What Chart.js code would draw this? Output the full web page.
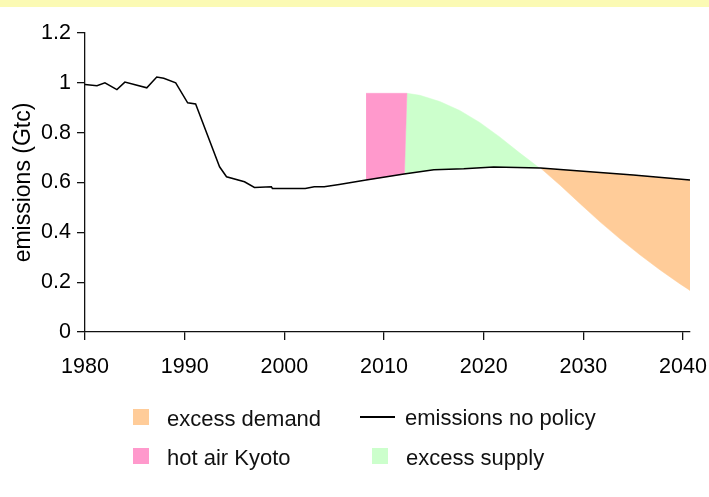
<!DOCTYPE html>
<html>
<head>
<meta charset="utf-8">
<script src="https://cdn.jsdelivr.net/npm/chart.js@4/dist/chart.umd.min.js"></script>
<style>
  html, body { margin: 0; padding: 0; background: #fff; }
  #wrap { position: relative; width: 709px; height: 497px; overflow: hidden;
          font-family: 'Liberation Sans', Arial, sans-serif; }
  #band { position: absolute; left: 0; top: 0; width: 709px; height: 7px; background: #fbfab4; }
  canvas { position: absolute; left: 0; top: 0; }
  .lg-text { position: absolute; font-size: 22px; line-height: 22px; color: #111; white-space: nowrap; }
  .lg-box { position: absolute; width: 16px; height: 16px; }
  .lg-line { position: absolute; width: 35px; height: 2px; background: #000; }
</style>
</head>
<body>
<div id="wrap">
  <div id="band"></div>
  <canvas id="chart" width="709" height="497"></canvas>
  <div id="legend"></div>
</div>
<script>
// Emissions without policy (Gtc)
const lineYears  = [1980, 1981.2, 1982, 1983.2, 1984, 1986.2, 1987.2, 1987.9, 1989.1, 1990.3, 1991.1,
                    1993.5, 1994.2, 1996, 1997, 1998.7, 1998.8, 2002.1, 2003, 2004, 2005.5, 2008.2,
                    2012, 2015, 2018, 2021, 2025.7, 2030, 2035, 2040.7];
const lineValues = [0.993, 0.988, 1.0, 0.973, 1.003, 0.98, 1.023, 1.018, 1.0, 0.92, 0.915,
                    0.663, 0.623, 0.603, 0.58, 0.583, 0.576, 0.576, 0.583, 0.583, 0.592, 0.61,
                    0.634, 0.651, 0.655, 0.662, 0.658, 0.645, 0.63, 0.61];

// Hot air Kyoto outline
const hotAirYears  = [2008.2, 2012.3, 2012.05, 2008.2];
const hotAirValues = [0.958, 0.958, 0.634, 0.61];

// Excess supply outline (top curve, then back along the no-policy path)
const supplyYears  = [2012.3, 2013.6, 2015.6, 2017.6, 2019.6, 2021.6, 2023.6, 2025.6,
                      2021, 2018, 2015, 2012.05];
const supplyValues = [0.958, 0.950, 0.925, 0.889, 0.841, 0.783, 0.719, 0.658,
                      0.662, 0.655, 0.651, 0.634];

// Excess demand outline (no-policy path, then back along the lower curve)
const demandYears  = [2025.7, 2030, 2035, 2040.7,
                      2040.7, 2039.7, 2037.7, 2035.7, 2033.7, 2031.7, 2029.7, 2027.7, 2025.7];
const demandValues = [0.658, 0.645, 0.63, 0.61,
                      0.167, 0.193, 0.249, 0.309, 0.373, 0.441, 0.514, 0.588, 0.658];

// Axis ticks
const xTicks = [1980, 1990, 2000, 2010, 2020, 2030, 2040];
const yTicks = [0, 0.2, 0.4, 0.6, 0.8, 1, 1.2];
const yTickLabels = ['0', '0.2', '0.4', '0.6', '0.8', '1', '1.2'];

const toPoints = (xs, ys) => xs.map((x, i) => ({ x: x, y: ys[i] }));

const FONT = "'Liberation Sans', Arial, sans-serif";
const AXIS = '#111';

const area = (label, xs, ys, color) => ({
  label: label,
  data: toPoints(xs, ys),
  backgroundColor: color,
  borderColor: color,
  borderWidth: 0.5,
  pointRadius: 0,
  tension: 0,
  fill: 'shape'
});

const datasets = [
  {
    label: 'emissions no policy',
    data: toPoints(lineYears, lineValues),
    borderColor: '#000',
    borderWidth: 1.5,
    pointRadius: 0,
    tension: 0,
    fill: false,
    clip: false
  },
  area('excess demand', demandYears, demandValues, '#ffcc99'),
  area('hot air Kyoto', hotAirYears, hotAirValues, '#ff99cc'),
  area('excess supply', supplyYears, supplyValues, '#ccffcc')
];

new Chart(document.getElementById('chart'), {
  type: 'line',
  data: { datasets: datasets },
  options: {
    responsive: false,
    animation: false,
    events: [],
    layout: { padding: { left: 0, top: 33, right: 19, bottom: 105 } },
    plugins: { legend: { display: false }, tooltip: { enabled: false } },
    scales: {
      x: {
        type: 'linear',
        min: 1980,
        max: 2040.7,
        afterBuildTicks: (s) => { s.ticks = xTicks.map(v => ({ value: v })); },
        afterFit: (s) => { s.height = 60; s.paddingLeft = 0; s.paddingRight = 0; },
        border: { display: true, color: AXIS, width: 1.3 },
        grid: { display: true, drawOnChartArea: false, drawTicks: true, tickLength: 8,
                color: AXIS, lineWidth: 1.3 },
        ticks: { color: '#000', padding: 14, maxRotation: 0, autoSkip: false,
                 font: { family: FONT, size: 21.5 },
                 callback: (v) => String(v) }
      },
      y: {
        type: 'linear',
        min: 0,
        max: 1.2,
        afterBuildTicks: (s) => { s.ticks = yTicks.map(v => ({ value: v })); },
        afterFit: (s) => { s.width = 85; s.paddingTop = 0; s.paddingBottom = 0; },
        border: { display: true, color: AXIS, width: 1.3 },
        grid: { display: true, drawOnChartArea: false, drawTicks: true, tickLength: 8,
                color: AXIS, lineWidth: 1.3 },
        ticks: { color: '#000', padding: 6, autoSkip: false,
                 font: { family: FONT, size: 21.5 },
                 callback: (v) => yTickLabels[yTicks.indexOf(v)] ?? String(v) },
        title: { display: true, text: 'emissions (Gtc)', color: '#000',
                 font: { family: FONT, size: 23 }, padding: { top: 10, bottom: 0 } }
      }
    }
  }
});

// Two-column legend below the plot
const legendItems = [
  { label: 'excess demand',       color: '#ffcc99', kind: 'box',  left: 133, top: 409, textLeft: 167 },
  { label: 'emissions no policy', color: '#000',    kind: 'line', left: 360, top: 416, textLeft: 405 },
  { label: 'hot air Kyoto',       color: '#ff99cc', kind: 'box',  left: 133, top: 448, textLeft: 167 },
  { label: 'excess supply',       color: '#ccffcc', kind: 'box',  left: 372, top: 448, textLeft: 406 }
];
const legendEl = document.getElementById('legend');
legendItems.forEach(it => {
  const mark = document.createElement('div');
  mark.className = it.kind === 'box' ? 'lg-box' : 'lg-line';
  mark.style.left = it.left + 'px';
  mark.style.top = it.top + 'px';
  mark.style.background = it.color;
  legendEl.appendChild(mark);
  const txt = document.createElement('div');
  txt.className = 'lg-text';
  txt.style.left = it.textLeft + 'px';
  txt.style.top = (it.kind === 'box' ? it.top - 1 : it.top - 9) + 'px';
  txt.textContent = it.label;
  legendEl.appendChild(txt);
});
</script>
</body>
</html>
